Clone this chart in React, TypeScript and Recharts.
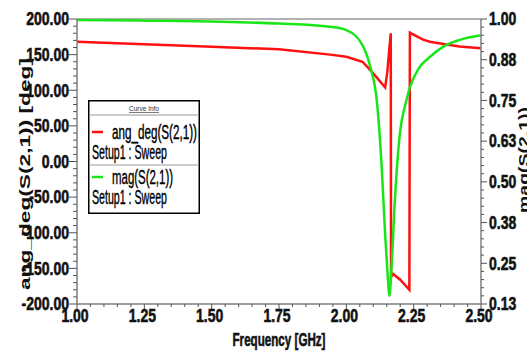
import React from 'react';
import { LineChart, Line, XAxis, YAxis, Label, Legend, ReferenceLine } from 'recharts';

// ---- data ----
const angFreq = [1.0, 1.25, 1.5, 1.75, 1.94, 2.0, 2.06, 2.09, 2.115, 2.137, 2.144, 2.152, 2.16, 2.165, 2.166, 2.174, 2.2, 2.234, 2.236, 2.26, 2.285, 2.31, 2.36, 2.42, 2.5];
const angDeg = [168, 164.5, 161, 157.5, 150, 147, 140, 128, 117, 107, 104, 125, 160, 180, -162, -158, -166, -180, 181, 176, 171, 168, 165, 161.5, 159];

const magFreq = [1.0, 1.25, 1.5, 1.75, 1.94, 2.0, 2.06, 2.09, 2.113, 2.131, 2.144, 2.153, 2.16, 2.168, 2.18, 2.199, 2.22, 2.236, 2.27, 2.311, 2.36, 2.422, 2.5];
const magVal = [0.997, 0.995, 0.992, 0.986, 0.976, 0.966, 0.92, 0.85, 0.75, 0.55, 0.34, 0.22, 0.15, 0.24, 0.44, 0.65, 0.74, 0.79, 0.85, 0.884, 0.915, 0.936, 0.95];

const xMajor = [1.0, 1.25, 1.5, 1.75, 2.0, 2.25, 2.5];
const xLabels = ['1.00', '1.25', '1.50', '1.75', '2.00', '2.25', '2.50'];
const leftMajor = [-200, -150, -100, -50, 0, 50, 100, 150, 200];
const leftLabels = ['-200.00', '-150.00', '-100.00', '-50.00', '0.00', '50.00', '100.00', '150.00', '200.00'];
const rightMajor = [0.125, 0.25, 0.375, 0.5, 0.625, 0.75, 0.875, 1.0];
const rightLabels = ['0.13', '0.25', '0.38', '0.50', '0.63', '0.75', '0.88', '1.00'];

const angData = angFreq.map((f, i) => ({ f, v: angDeg[i] }));
const magData = magFreq.map((f, i) => ({ f, v: magVal[i] }));

const minorTicks = (majors: number[], n: number) => {
  const out: number[] = [];
  for (let i = 0; i < majors.length - 1; i++) {
    const a = majors[i], b = majors[i + 1];
    for (let k = 0; k < n; k++) out.push(+(a + ((b - a) * k) / n).toFixed(6));
  }
  out.push(majors[majors.length - 1]);
  return out;
};
const xTicks = minorTicks(xMajor, 5);
const leftTicks = minorTicks(leftMajor, 5);
const rightTicks = minorTicks(rightMajor, 5);

const NARROW = "'Liberation Sans Narrow', 'Arial Narrow', 'Liberation Sans', Arial, sans-serif";
const SANS = "'Liberation Sans', Arial, sans-serif";
const TICK_COLOR = '#555';
const AXIS_COLOR = '#808080';
const VSCALE = 1.35;
const BOLD = { fontWeight: 'bold' as const, stroke: '#111', strokeWidth: 0.45 };

const idx = (arr: number[], v: number) => arr.findIndex((m) => Math.abs(m - v) < 1e-6);

const LeftTick = (props: any) => {
  const { x, y, payload } = props;
  const i = idx(leftMajor, payload.value);
  const major = i >= 0;
  return (
    <g>
      <line x1={x} x2={x - (major ? 8 : 4)} y1={y} y2={y} stroke={TICK_COLOR} strokeWidth={1} />
      {major && (
        <text transform={`translate(${x - 8},${y}) scale(1,${VSCALE})`} textAnchor="end" dominantBaseline="central"
          fontFamily={NARROW} fontSize={14} fill="#111" {...BOLD}>{leftLabels[i]}</text>
      )}
    </g>
  );
};

const RightTick = (props: any) => {
  const { x, y, payload } = props;
  const i = idx(rightMajor, payload.value);
  const major = i >= 0;
  return (
    <g>
      <line x1={x} x2={x + (major ? 6 : 3)} y1={y} y2={y} stroke={TICK_COLOR} strokeWidth={1} />
      {major && (
        <text transform={`translate(${x + 8},${y}) scale(1,${VSCALE})`} textAnchor="start" dominantBaseline="central"
          fontFamily={NARROW} fontSize={14} fill="#111" {...BOLD}>{rightLabels[i]}</text>
      )}
    </g>
  );
};

const XTick = (props: any) => {
  const { x, y, payload } = props;
  const i = idx(xMajor, payload.value);
  const major = i >= 0;
  return (
    <g>
      <line x1={x} x2={x} y1={y} y2={y + (major ? 5 : 3)} stroke={TICK_COLOR} strokeWidth={1} />
      {major && (
        <text transform={`translate(${x - 2},${y + 12}) scale(1,${VSCALE})`} textAnchor="middle" dominantBaseline="central"
          fontFamily={NARROW} fontSize={14} fill="#111" {...BOLD}>{xLabels[i]}</text>
      )}
    </g>
  );
};

const LeftTitle = (props: any) => {
  const vb = props.viewBox || { x: 0, y: 19, width: 77, height: 285 };
  const cx = vb.x + 24.5;
  const cy = vb.y + vb.height / 2 + 12.5;
  return (
    <text transform={`translate(${cx},${cy}) rotate(-90)`} textAnchor="middle" dominantBaseline="central"
      fontFamily={SANS} fontWeight="bold" fontSize={14.5} fill="#111" textLength={232} lengthAdjust="spacingAndGlyphs">
      ang_deg(S(2,1))  [deg]
    </text>
  );
};

const RightTitle = (props: any) => {
  const vb = props.viewBox || { x: 481, y: 19, width: 46, height: 285 };
  const cx = vb.x + 42;
  const cy = vb.y + vb.height / 2 - 1.5;
  return (
    <text transform={`translate(${cx},${cy}) rotate(-90)`} textAnchor="middle" dominantBaseline="central"
      fontFamily={SANS} fontWeight="bold" fontSize={15} fill="#111" textLength={106} lengthAdjust="spacingAndGlyphs">
      mag(S(2,1))
    </text>
  );
};

const XTitle = (props: any) => {
  const vb = props.viewBox || { x: 77, y: 304, width: 404, height: 47 };
  const cx = vb.x + vb.width / 2;
  const cy = vb.y + 36;
  return (
    <text transform={`translate(${cx},${cy}) scale(1,${VSCALE})`} textAnchor="middle" dominantBaseline="central"
      fontFamily={NARROW} fontSize={14} fill="#111" textLength={93} lengthAdjust="spacingAndGlyphs" {...BOLD}>
      Frequency [GHz]
    </text>
  );
};

const legendRows = [
  { name: 'ang_deg(S(2,1))', color: '#ff1010', width: 85 },
  { name: 'mag(S(2,1))', color: '#19e619', width: 61 },
];

const LegendBox = () => {
  const W = 112, H = 114;
  return (
    <svg width={W} height={H} style={{ display: 'block' }}>
      <rect x={0.75} y={0.75} width={W - 1.5} height={H - 1.5} fill="#fff" stroke="#000" strokeWidth={1.5} />
      <text x={W / 2} y={8.5} textAnchor="middle" dominantBaseline="central" fontFamily={SANS} fontSize={6.5}
        fill="#333" textDecoration="underline">Curve Info</text>
      <line x1={1} x2={W - 1} y1={15} y2={15} stroke="#999" strokeWidth={1} />
      <line x1={1} x2={W - 1} y1={65} y2={65} stroke="#999" strokeWidth={1} />
      {legendRows.map((r, i) => {
        const y0 = 32 + i * 45;
        return (
          <g key={r.name}>
            <line x1={4} x2={15} y1={y0} y2={y0} stroke={r.color} strokeWidth={2.5} />
            <text transform={`translate(24,${y0}) scale(1,1.3)`} dominantBaseline="central" fontFamily={NARROW}
              fontSize={15} fill="#000" stroke="#000" strokeWidth={0.3} textLength={r.width} lengthAdjust="spacingAndGlyphs">{r.name}</text>
            <text transform={`translate(4,${y0 + 20.5}) scale(1,1.3)`} dominantBaseline="central" fontFamily={NARROW}
              fontSize={15} fill="#000" stroke="#000" strokeWidth={0.3} textLength={75} lengthAdjust="spacingAndGlyphs">Setup1 : Sweep</text>
          </g>
        );
      })}
    </svg>
  );
};

export default function App() {
  return (
    <div style={{ position: 'absolute', left: 0, top: 0, width: 527, height: 351, background: '#fff' }}>
      <LineChart width={527} height={351} margin={{ top: 19, right: 0, bottom: 0, left: 0 }}>
        <XAxis dataKey="f" type="number" domain={[1, 2.5]} ticks={xTicks} interval={0} height={47}
          tick={<XTick />} tickLine={false} tickSize={0} tickMargin={0} axisLine={{ stroke: AXIS_COLOR, strokeWidth: 1.5 }}
          allowDataOverflow>
          <Label content={<XTitle />} />
        </XAxis>
        <YAxis yAxisId="ang" orientation="left" type="number" domain={[-200, 200]} ticks={leftTicks} interval={0}
          width={77} tick={<LeftTick />} tickLine={false} tickSize={0} tickMargin={0}
          axisLine={{ stroke: AXIS_COLOR, strokeWidth: 1.5 }} allowDataOverflow>
          <Label content={<LeftTitle />} />
        </YAxis>
        <YAxis yAxisId="mag" orientation="right" type="number" domain={[0.125, 1]} ticks={rightTicks} interval={0}
          width={46} tick={<RightTick />} tickLine={false} tickSize={0} tickMargin={0}
          axisLine={{ stroke: AXIS_COLOR, strokeWidth: 1.5 }} allowDataOverflow>
          <Label content={<RightTitle />} />
        </YAxis>
        <ReferenceLine yAxisId="ang" y={200} stroke="#999" strokeWidth={1.5} />
        <Line yAxisId="ang" data={angData} dataKey="v" name="ang_deg(S(2,1))" type="linear" stroke="#ff1010"
          strokeWidth={2.5} dot={false} isAnimationActive={false} />
        <Line yAxisId="mag" data={magData} dataKey="v" name="mag(S(2,1))" type="monotoneX" stroke="#19e619"
          strokeWidth={2.5} dot={false} isAnimationActive={false} />
        <Legend layout="horizontal" verticalAlign="middle" align="center" content={<LegendBox />}
          wrapperStyle={{ position: 'absolute', left: 88, top: 100, width: 112, height: 114 }} />
      </LineChart>
    </div>
  );
}
